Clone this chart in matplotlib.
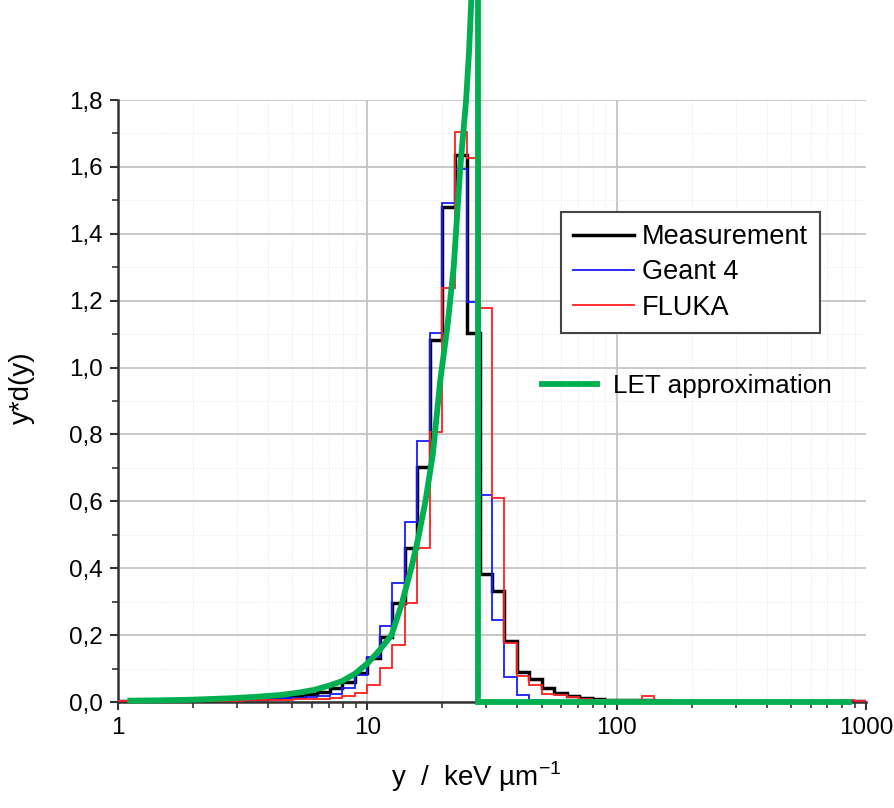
import numpy as np
import matplotlib.pyplot as plt
from matplotlib.lines import Line2D
from matplotlib.ticker import MultipleLocator, FuncFormatter, LogLocator, NullFormatter

plt.rcParams['font.family'] = ['Liberation Sans', 'DejaVu Sans']
plt.rcParams['mathtext.fontset'] = 'custom'
plt.rcParams['mathtext.rm'] = 'Liberation Sans'

# lineal energy bins: 20 log bins per decade from 1 to 1000 keV/um
bins_per_decade = 20
edges = 10 ** (np.arange(3 * bins_per_decade + 1) / bins_per_decade)

measurement = [
    0.003, 0.003, 0.004, 0.004, 0.004, 0.005, 0.005, 0.006, 0.007, 0.008,
    0.009, 0.010, 0.012, 0.015, 0.019, 0.024, 0.031, 0.041, 0.061, 0.088,
    0.131, 0.195, 0.297, 0.460, 0.704, 1.083, 1.481, 1.635, 1.102, 0.382,
    0.333, 0.182, 0.091, 0.068, 0.043, 0.026, 0.019, 0.012, 0.009, 0.007,
    0.006, 0.005, 0.005, 0.004, 0.004, 0.004, 0.003, 0.003, 0.003, 0.003,
    0.002, 0.002, 0.002, 0.002, 0.002, 0.002, 0.002, 0.002, 0.002, 0.002,
]
geant4 = [
    0.002, 0.002, 0.002, 0.003, 0.003, 0.003, 0.004, 0.004, 0.005, 0.006,
    0.007, 0.008, 0.009, 0.011, 0.013, 0.016, 0.019, 0.025, 0.041, 0.081,
    0.136, 0.228, 0.355, 0.539, 0.779, 1.102, 1.493, 1.593, 1.197, 0.619,
    0.244, 0.075, 0.020, 0.006, 0.004, 0.003, 0.003, 0.002, 0.002, 0.002,
    0.002, 0.002, 0.002, 0.002, 0.002, 0.002, 0.002, 0.002, 0.002, 0.002,
    0.002, 0.002, 0.002, 0.002, 0.002, 0.002, 0.002, 0.002, 0.002, 0.002,
]
fluka = [
    0.004, 0.003, 0.003, 0.003, 0.003, 0.003, 0.003, 0.004, 0.004, 0.004,
    0.005, 0.005, 0.006, 0.007, 0.008, 0.009, 0.010, 0.011, 0.018, 0.026,
    0.051, 0.101, 0.170, 0.295, 0.460, 0.808, 1.237, 1.704, 1.628, 1.177,
    0.609, 0.175, 0.078, 0.051, 0.024, 0.020, 0.016, 0.009, 0.007, 0.006,
    0.005, 0.005, 0.018, 0.005, 0.004, 0.004, 0.004, 0.003, 0.003, 0.003,
    0.003, 0.003, 0.003, 0.003, 0.003, 0.003, 0.003, 0.004, 0.006, 0.004,
]

# LET approximation curve, then the cut-off at the maximum LET
let_y = [1.12, 1.5, 2.0, 2.8, 3.5, 4.5, 5.3, 6.1, 7.1, 7.9, 8.9, 10.0, 11.2,
         12.5, 13.7, 15.0, 16.0, 17.1, 18.3, 19.6, 21.0, 22.2, 23.6, 24.9,
         25.6, 26.3]
let_val = [0.004, 0.005, 0.007, 0.011, 0.015, 0.021, 0.028, 0.036, 0.050,
           0.062, 0.084, 0.115, 0.155, 0.200, 0.290, 0.400, 0.490, 0.600,
           0.740, 0.960, 1.130, 1.300, 1.600, 1.800, 1.950, 2.150]
cut_y = [27.9, 27.9, 855.0]
cut_val = [2.15, 0.0, 0.0]

green = '#00b050'

fig = plt.figure(figsize=(8.94, 8.08), dpi=100)
ax = fig.add_axes([118 / 894, 1 - 702 / 808, 748 / 894, 602 / 808])

ax.stairs(measurement, edges, color='black', lw=2.5, baseline=None, zorder=3)
ax.stairs(geant4, edges, color='#1a1aff', lw=1.3, baseline=None, zorder=4)
ax.stairs(fluka, edges, color='#ff2020', lw=1.3, baseline=None, zorder=5)
ax.plot(let_y, let_val, color=green, lw=4.2, clip_on=False, zorder=6)
ax.plot(cut_y, cut_val, color=green, lw=4.2, clip_on=False, zorder=6,
        solid_joinstyle='miter')

ax.set_xscale('log')
ax.set_xlim(1, 1000)
ax.set_ylim(0, 1.8)

ax.set_xticks([1, 10, 100, 1000])
ax.set_xticklabels(['1', '10', '100', '1000'])
ax.xaxis.set_minor_locator(LogLocator(base=10, subs=np.arange(2, 10)))
ax.xaxis.set_minor_formatter(NullFormatter())
ax.yaxis.set_major_locator(MultipleLocator(0.2))
ax.yaxis.set_minor_locator(MultipleLocator(0.1))
ax.yaxis.set_major_formatter(FuncFormatter(lambda v, p: f'{v:.1f}'.replace('.', ',')))

for s in ['top', 'right']:
    ax.spines[s].set_visible(False)
for s in ['left', 'bottom']:
    ax.spines[s].set_linewidth(1.8)
    ax.spines[s].set_color('#333333')
ax.tick_params(which='major', length=6, width=1.5, color='#333333',
               labelsize=17.5, pad=5)
ax.tick_params(which='minor', length=4, width=1.2, color='#333333')

ax.grid(which='major', color='#c4c4c4', lw=1.3)
ax.grid(which='minor', color='#e6e6e6', lw=0.7, ls=':')
ax.set_axisbelow(True)
for gl in (ax.get_xgridlines()[0], ax.get_xgridlines()[-1],
           ax.get_ygridlines()[0], ax.get_ygridlines()[-1]):
    gl.set_visible(False)

ax.set_ylabel('y*d(y)', fontsize=20)
ax.yaxis.set_label_coords(-0.111, 0.522)
ax.set_xlabel(r'y  /  keV µm$^{\mathregular{-1}}$', fontsize=20)
ax.xaxis.set_label_coords(0.479, -0.095)

handles = [Line2D([], [], color='black', lw=2.5),
           Line2D([], [], color='#1a1aff', lw=1.3),
           Line2D([], [], color='#ff2020', lw=1.3)]
leg = ax.legend(handles, ['Measurement', 'Geant 4', 'FLUKA'],
                loc='upper left', bbox_to_anchor=(561 / 894, 1 - 212 / 808),
                bbox_transform=fig.transFigure, borderaxespad=0,
                fontsize=19.5, handlelength=2.25, handletextpad=0.3,
                borderpad=0.45, labelspacing=0.34, fancybox=False,
                framealpha=1, edgecolor='#444444')
leg.get_frame().set_linewidth(1.5)
ax.add_artist(leg)

leg2 = ax.legend([Line2D([], [], color=green, lw=4.2)], ['LET approximation'],
                 loc='center left', bbox_to_anchor=(532 / 894, 1 - 386 / 808),
                 bbox_transform=fig.transFigure, borderaxespad=0,
                 frameon=False, handlelength=2.1, handletextpad=0.6,
                 fontsize=18.8)

fig.savefig('out.png', dpi=100)
